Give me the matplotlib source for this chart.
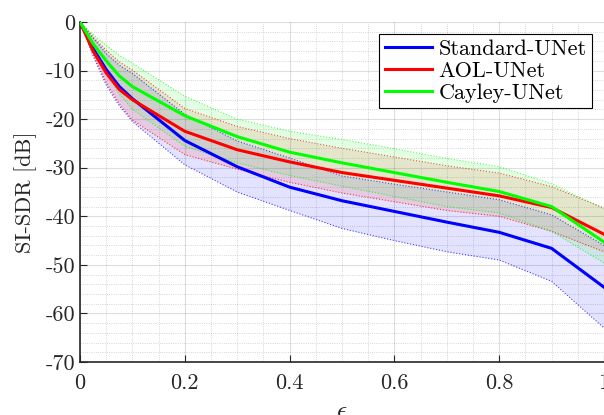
import numpy as np
import matplotlib
matplotlib.use('Agg')
import matplotlib.pyplot as plt
from matplotlib.ticker import MultipleLocator, FuncFormatter

plt.rcParams['font.family'] = 'cmr10'
plt.rcParams['mathtext.fontset'] = 'cm'
plt.rcParams['axes.unicode_minus'] = False
plt.rcParams['axes.formatter.use_mathtext'] = True

eps = [0, 0.025, 0.05, 0.075, 0.1, 0.2, 0.3, 0.4, 0.5, 0.6, 0.7, 0.8, 0.9, 1.0]

std_mean = [0, -5.5, -9.8, -13.3, -15.8, -24.4, -29.8, -34.0, -36.8, -39.0, -41.2, -43.3, -46.6, -54.6]
std_upper = [0, -3.3, -6.5, -8.9, -10.6, -19.0, -24.5, -28.0, -31.7, -33.4, -35.0, -36.6, -39.7, -46.0]
std_lower = [0, -7, -13, -17.3, -20.5, -29.4, -35.0, -38.8, -42.5, -45.0, -47.3, -49.0, -53.4, -63.0]

aol_mean = [0, -6, -10.5, -13.9, -16.0, -22.5, -26.3, -28.8, -31.0, -32.6, -34.2, -35.8, -38.2, -43.7]
aol_upper = [0, -3.1, -5.8, -8.2, -9.9, -17.8, -21.5, -24.0, -26.0, -27.8, -29.6, -31.1, -33.9, -38.3]
aol_lower = [0, -6.6, -12.5, -16.8, -20.2, -27.3, -30.3, -33.0, -35.2, -37.0, -38.8, -40.0, -43.1, -47.3]

cay_mean = [0, -4.5, -8, -11.1, -13.3, -19.3, -23.6, -26.8, -29.0, -31.0, -33.0, -34.9, -38.0, -45.3]
cay_upper = [0, -2.6, -4.8, -6.9, -8.5, -15.3, -20.0, -22.5, -24.2, -26.1, -28.1, -29.8, -33.3, -38.5]
cay_lower = [0, -5.3, -10.5, -14.8, -18.0, -25.6, -29.0, -31.6, -33.8, -35.9, -38.0, -39.3, -43.1, -49.6]

models = [
    ('Standard-UNet', (0, 0, 1), std_mean, std_upper, std_lower),
    ('AOL-UNet', (1, 0, 0), aol_mean, aol_upper, aol_lower),
    ('Cayley-UNet', (0, 1, 0), cay_mean, cay_upper, cay_lower),
]

fig = plt.figure(figsize=(6.04, 4.15), dpi=100)
ax = fig.add_axes([0.1325, 0.1277, 0.8675, 0.8193])

# shaded bands with dotted edges
for name, c, m, up, lo in models:
    ax.fill_between(eps, lo, up, color=c, alpha=0.11, linewidth=0, zorder=1)
    ax.plot(eps, up, ':', color=c, linewidth=0.8, alpha=0.7, zorder=2)
    ax.plot(eps, lo, ':', color=c, linewidth=0.8, alpha=0.7, zorder=2)

for name, c, m, up, lo in models:
    ax.plot(eps, m, '-', color=c, linewidth=2.2, label=name, zorder=3)

ax.set_xlim(0, 1)
ax.set_ylim(-70, 0)
ax.xaxis.set_major_locator(MultipleLocator(0.2))
ax.xaxis.set_minor_locator(MultipleLocator(0.05))
ax.yaxis.set_major_locator(MultipleLocator(10))
ax.yaxis.set_minor_locator(MultipleLocator(2))
ax.xaxis.set_major_formatter(FuncFormatter(lambda v, p: '%g' % round(v, 2)))
ax.yaxis.set_major_formatter(FuncFormatter(lambda v, p: '%d' % round(v)))

ax.grid(which='major', color=(0.15, 0.15, 0.15), alpha=0.15, linewidth=0.8)
ax.grid(which='minor', color=(0.15, 0.15, 0.15), alpha=0.25, linestyle=':', linewidth=0.6)
ax.set_axisbelow(True)

ax.tick_params(which='major', direction='in', length=5, width=0.8, labelsize=16,
               colors=(0.15, 0.15, 0.15), labelcolor=(0.15, 0.15, 0.15))
ax.tick_params(which='minor', length=0)
ax.tick_params(axis='x', pad=8)
for s in ['top', 'right']:
    ax.spines[s].set_visible(False)
for s in ['left', 'bottom']:
    ax.spines[s].set_color((0.15, 0.15, 0.15))
    ax.spines[s].set_linewidth(1.2)

ax.set_ylabel('SI-SDR [dB]', fontsize=16, color=(0.15, 0.15, 0.15), labelpad=6)
ax.set_xlabel(r'$\epsilon$', fontsize=18, color=(0.15, 0.15, 0.15), labelpad=6)

leg = ax.legend(loc='upper right', bbox_to_anchor=(0.977, 0.965), borderaxespad=0,
                fontsize=16, fancybox=False, framealpha=1, edgecolor='black',
                handlelength=2.1, handletextpad=0.3, borderpad=0.25, labelspacing=0.1)
leg.get_frame().set_linewidth(0.8)

fig.savefig('out.png', dpi=100)
